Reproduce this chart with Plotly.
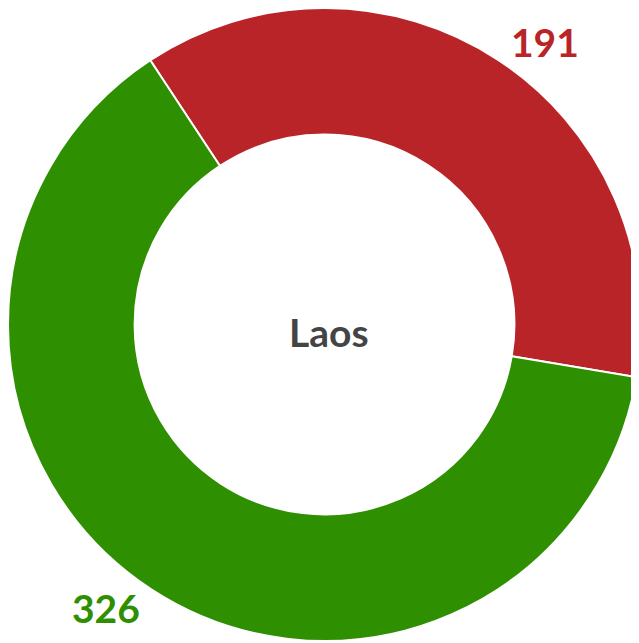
import plotly.graph_objects as go

categories = ["Red", "Green"]
values = [191, 326]
colors = ["#B92428", "#2E8F00"]
center_label = "Laos"

W, H = 639, 643
fig = go.Figure(go.Pie(
    labels=categories,
    values=values,
    hole=0.60,
    sort=False,
    direction="clockwise",
    rotation=-33.4,
    marker=dict(colors=colors, line=dict(color="white", width=2)),
    textinfo="none",
    hoverinfo="label+value",
    showlegend=False,
    domain=dict(x=[0.0, 0.9906], y=[0.0156, 1.0]),
))

font_family = "Lato, Liberation Sans Narrow, sans-serif"


def ann(px, py, text, size, color):
    fig.add_annotation(x=px / W, y=1 - py / H, xref="paper", yref="paper",
                       xanchor="center", yanchor="middle",
                       text=f"<b>{text}</b>", showarrow=False,
                       font=dict(family=font_family, size=size, color=color))


ann(321, 324, center_label, 39, "#444444")
ann(537, 34, values[0], 39, colors[0])
ann(98, 600, values[1], 39, colors[1])

fig.update_layout(width=W, height=H, margin=dict(l=0, r=0, t=0, b=0),
                  paper_bgcolor="white", plot_bgcolor="white")
fig.write_html("out.html")
